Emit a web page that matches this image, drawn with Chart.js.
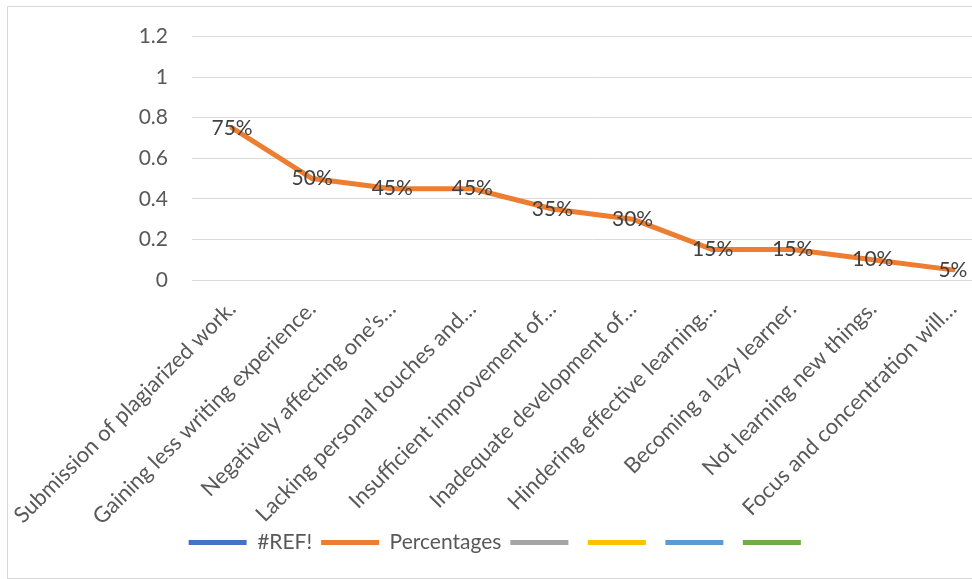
<!DOCTYPE html>
<html>
<head>
<meta charset="utf-8">
<script src="https://cdn.jsdelivr.net/npm/chart.js@4.4.1/dist/chart.umd.min.js"></script>
<style>
  html, body { margin: 0; padding: 0; background: #fff; overflow: hidden; }
  #frame { position: absolute; left: 7px; top: 6px; width: 1100px; height: 571px; border: 1px solid #d9d9d9; }
  #wrap { position: absolute; left: 0; top: 0; width: 1000px; height: 579px; }
</style>
</head>
<body>
<div id="frame"></div>
<div id="wrap"><canvas id="chart-effects"></canvas></div>
<script>
const categories = [
  'Submission of plagiarized work.',
  'Gaining less writing experience.',
  'Negatively affecting one\u2019s\u2026',
  'Lacking personal touches and\u2026',
  'Insufficient improvement of\u2026',
  'Inadequate development of\u2026',
  'Hindering effective learning\u2026',
  'Becoming a lazy learner.',
  'Not learning new things.',
  'Focus and concentration will\u2026'
];
const percentages = [0.75, 0.50, 0.45, 0.45, 0.35, 0.30, 0.15, 0.15, 0.10, 0.05];
const refValues = [];
const seriesNames = ['#REF!', 'Percentages', '', '', '', ''];
const seriesColors = ['#4472c4', '#ed7d31', '#a5a5a5', '#ffc000', '#5b9bd5', '#70ad47'];
const yTicks = [0, 0.2, 0.4, 0.6, 0.8, 1, 1.2];

const textGrey = '#595959';
const baseFont = 'Lato, "Open Sans", sans-serif';

// percent labels sitting on the orange line
const pointLabels = {
  id: 'pointLabels',
  afterDatasetsDraw(chart) {
    const ctx = chart.ctx;
    const meta = chart.getDatasetMeta(1);
    ctx.save();
    ctx.font = '21px ' + baseFont;
    ctx.fillStyle = '#404040';
    ctx.textAlign = 'center';
    ctx.textBaseline = 'middle';
    meta.data.forEach((pt, i) => {
      ctx.fillText(Math.round(percentages[i] * 100) + '%', pt.x, pt.y);
    });
    ctx.restore();
  }
};

const datasets = seriesNames.map((name, i) => ({
  label: name,
  data: i === 1 ? percentages : refValues,
  borderColor: seriesColors[i],
  backgroundColor: seriesColors[i],
  borderWidth: 5,
  borderCapStyle: 'round',
  borderJoinStyle: 'round',
  pointRadius: 0,
  pointHoverRadius: 0,
  tension: 0
}));

new Chart(document.getElementById('chart-effects'), {
  type: 'line',
  data: { labels: categories, datasets: datasets },
  options: {
    responsive: true,
    maintainAspectRatio: false,
    animation: false,
    layout: { padding: { top: 35, left: 7, right: 7, bottom: 16 } },
    plugins: {
      tooltip: { enabled: false },
      legend: {
        position: 'bottom',
        labels: {
          color: textGrey,
          font: { family: baseFont, size: 21 },
          boxWidth: 58,
          boxHeight: 5,
          padding: 9,
          useBorderRadius: true,
          borderRadius: 2.5,
          generateLabels: chart => chart.data.datasets.map((ds, i) => ({
            text: ds.label,
            fillStyle: seriesColors[i],
            strokeStyle: seriesColors[i],
            lineWidth: 0,
            fontColor: textGrey,
            hidden: false,
            datasetIndex: i
          }))
        }
      }
    },
    scales: {
      x: {
        offset: true,
        grid: { display: false, drawTicks: false },
        border: { color: '#d9d9d9', width: 1 },
        afterFit: axis => { axis.paddingLeft = 0; axis.paddingRight = 0; axis.height = 243; },
        ticks: {
          autoSkip: false,
          maxRotation: 45,
          minRotation: 45,
          padding: 16,
          color: textGrey,
          font: { family: baseFont, size: 22 }
        }
      },
      y: {
        min: 0,
        max: 1.2,
        afterBuildTicks: axis => { axis.ticks = yTicks.map(v => ({ value: v })); },
        afterFit: axis => { axis.width = 185; },
        grid: { color: '#d9d9d9', lineWidth: 1, drawTicks: false },
        border: { display: false },
        ticks: {
          padding: 24,
          color: textGrey,
          font: { family: baseFont, size: 21 },
          callback: v => String(+v.toFixed(1))
        }
      }
    }
  },
  plugins: [pointLabels]
});
</script>
</body>
</html>
